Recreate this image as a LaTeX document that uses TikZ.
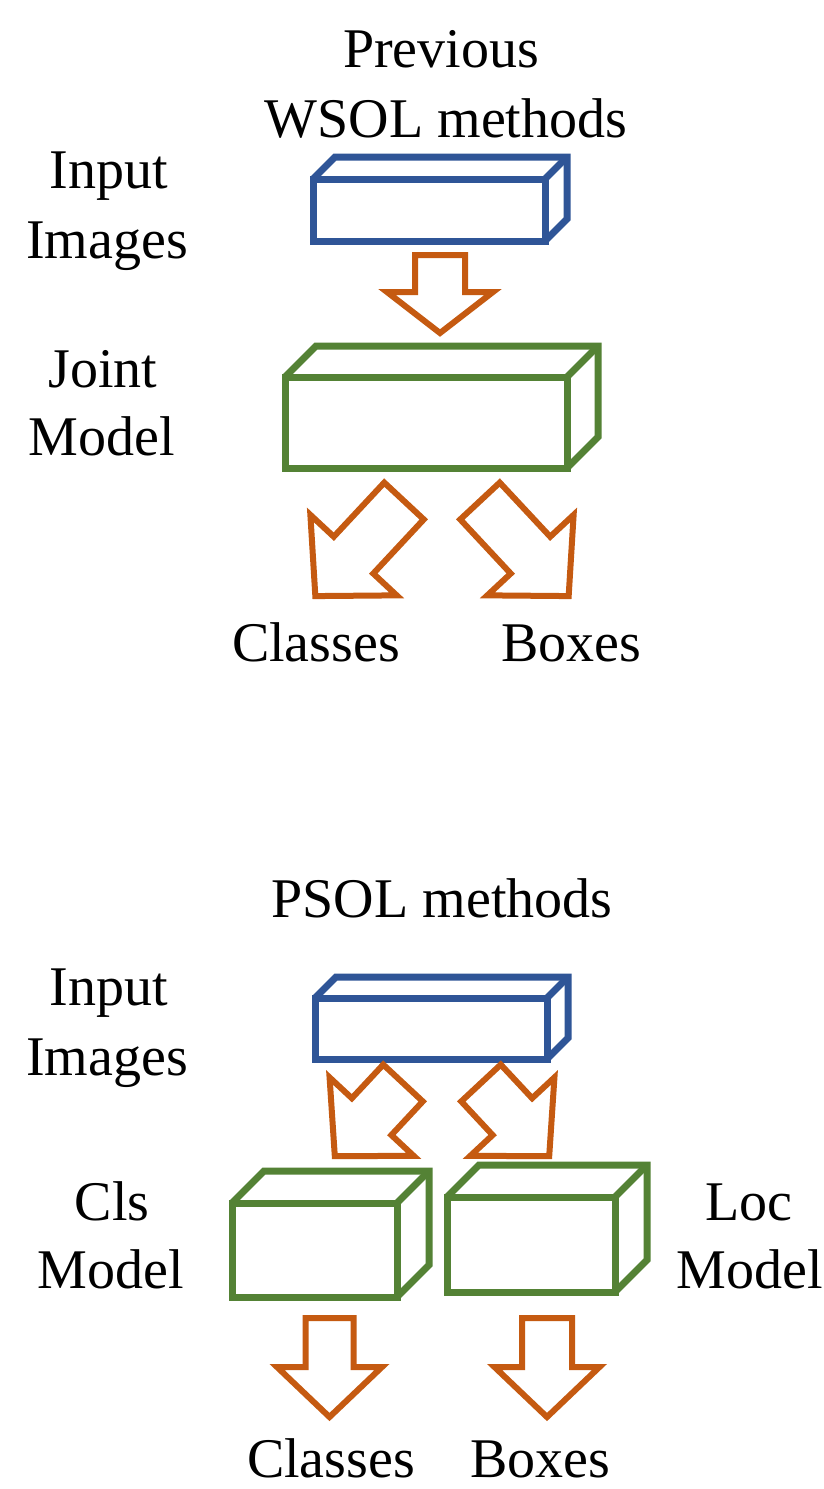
\documentclass[tikz,border=0pt]{standalone}
\usepackage{fontspec}
\setmainfont{Liberation Serif}
\usetikzlibrary{calc}
\definecolor{cblue}{RGB}{47,85,151}
\definecolor{cgreen}{RGB}{84,130,53}
\definecolor{corange}{RGB}{197,90,17}
\tikzset{
  lbl/.style={anchor=base, inner sep=0pt, outer sep=0pt, font=\fontsize{56}{67}\selectfont},
  face/.style={draw=#1, fill=white, line width=7pt, inner sep=0pt, outer sep=0pt, anchor=north west, line join=miter},
  edge3d/.style={draw=#1, line width=7pt, line join=miter},
  barrow/.style={draw=corange, line width=6pt, line join=miter, miter limit=4},
}
% name, colour, x, y (front top-left, y downwards), width, height, depth
\newcommand\cuboid[7]{%
  \node[face=#2, minimum width=#5pt, minimum height=#6pt] (#1) at (#3,-#4) {};
  \draw[edge3d=#2] (#1.north west) -- ++(#7,#7) -- ($(#1.north east)+(#7,#7)$) -- ($(#1.south east)+(#7,#7)$) -- (#1.south east);
  \draw[edge3d=#2] (#1.north east) -- ++(#7,#7);
}
% tail coordinate, angle, length, shaft width, head width, head length
\newcommand\blkarrow[6]{%
  \draw[barrow, shift={(#1)}, rotate=#2] (0,-#4/2) -- (#3-#6,-#4/2) -- (#3-#6,-#5/2) -- (#3,0) -- (#3-#6,#5/2) -- (#3-#6,#4/2) -- (0,#4/2) -- cycle;
}
\begin{document}
\begin{tikzpicture}[x=1pt,y=1pt]
  \fill[white] (0,0) rectangle (823,-1489);
  \useasboundingbox (0,0) rectangle (823,-1489);

  % ---------- top: previous WSOL methods ----------
  \node[lbl] (t1) at (441,-67) {Previous};
  \node[lbl] (t2) at (446,-137) {WSOL methods};
  \node[lbl] (in1a) at (109,-188) {Input};
  \node[lbl] (in1b) at (107,-258) {Images};
  \node[lbl] (jm1) at (103,-387) {Joint};
  \node[lbl] (jm2) at (102,-455) {Model};
  \node[lbl] (cl1) at (316,-661) {Classes};
  \node[lbl] (bx1) at (571,-661) {Boxes};

  \cuboid{img1}{cblue}{313}{179}{232}{62}{22}
  \cuboid{joint}{cgreen}{285}{377}{282}{91}{31}

  \coordinate (a1) at ($(img1.south)+(11,-14)$);
  \blkarrow{a1}{-90}{78}{50}{106}{41}
  \coordinate (a2) at (404,-501);
  \blkarrow{a2}{227}{130}{54}{118}{56}
  \coordinate (a3) at (480,-501);
  \blkarrow{a3}{-47}{130}{54}{118}{56}

  % ---------- bottom: PSOL methods ----------
  \node[lbl] (t3) at (442,-917) {PSOL methods};
  \node[lbl] (in2a) at (109,-1005) {Input};
  \node[lbl] (in2b) at (107,-1075) {Images};
  \node[lbl] (cm1) at (112,-1220) {Cls};
  \node[lbl] (cm2) at (111,-1288) {Model};
  \node[lbl] (lm1) at (749,-1220) {Loc};
  \node[lbl] (lm2) at (750,-1288) {Model};
  \node[lbl] (cl2) at (331,-1477) {Classes};
  \node[lbl] (bx2) at (540,-1477) {Boxes};

  \cuboid{img2}{cblue}{315}{998}{232}{61}{21}
  \cuboid{cls}{cgreen}{232}{1203}{165}{94}{32}
  \cuboid{loc}{cgreen}{447}{1197}{168}{95}{32}

  \coordinate (a4) at (403,-1083);
  \blkarrow{a4}{227}{100}{54}{115}{54}
  \coordinate (a5) at (481,-1083);
  \blkarrow{a5}{-47}{100}{54}{115}{54}
  \coordinate (a6) at ($(cls.south)+(15,-21)$);
  \blkarrow{a6}{-90}{99}{48}{105}{50}
  \coordinate (a7) at ($(loc.south)+(16,-26)$);
  \blkarrow{a7}{-90}{99}{50}{105}{50}
\end{tikzpicture}
\end{document}
